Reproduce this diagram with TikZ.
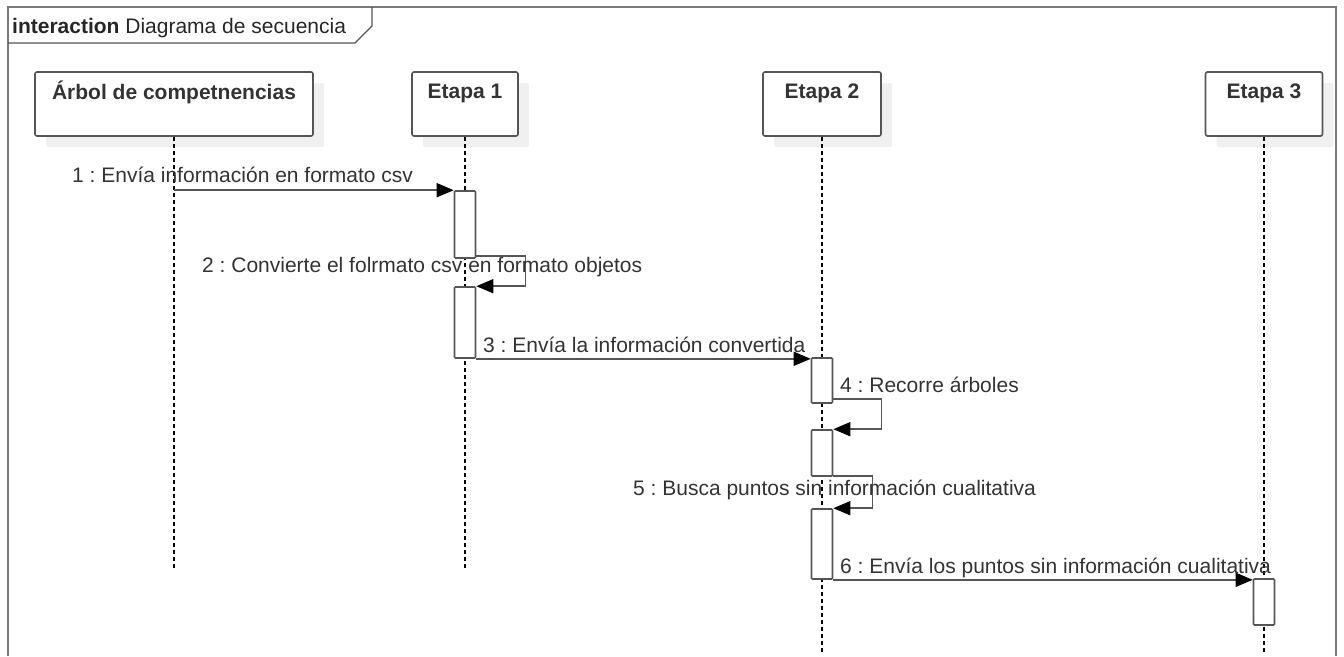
\documentclass[tikz,border=0pt]{standalone}
\usepackage{fontspec}
\setmainfont{Liberation Sans}
\usetikzlibrary{arrows.meta,shadows,calc}
\definecolor{linegray}{HTML}{555555}
\definecolor{textgray}{HTML}{333333}
\definecolor{framegray}{HTML}{7A7A7A}
\definecolor{shadowgray}{HTML}{F0F0F0}
\frenchspacing

\begin{document}
\begin{tikzpicture}[x=1pt,y=-1pt,
  every node/.style={font=\fontsize{21}{25}\selectfont, text=textgray},
  head/.style={draw=linegray, line width=1.6pt, rounded corners=2pt, fill=white,
    minimum height=64pt, inner sep=0pt,
    general shadow={fill=shadowgray, shadow xshift=11pt, shadow yshift=-11pt}},
  headlabel/.style={font=\fontsize{21}{25}\selectfont\bfseries, anchor=base, inner sep=0pt},
  act/.style={draw=linegray, line width=1.6pt, fill=white, minimum width=21pt,
    inner sep=0pt, rounded corners=1pt},
  life/.style={line width=1.3pt, dash pattern=on 4pt off 3pt, black},
  msg/.style={draw=linegray, line width=1.6pt,
    -{Triangle[length=17pt,width=14pt,color=black]}},
  msglabel/.style={anchor=base west, inner sep=0pt},
]
\useasboundingbox (0,0) rectangle (1344,656);

% interaction frame and its name tab
\draw[framegray, line width=2pt] (8,656) -- (8,7) -- (1336,7) -- (1336,656);
\draw[linegray, line width=1.3pt] (8,43) -- (355,43) -- (372,26) -- (372,7);
\node[anchor=base west, inner sep=0pt, text=black!85] (title) at (12,33)
  {\textbf{interaction} Diagrama de secuencia};

% lifeline heads
\node[head, minimum width=278pt] (h0) at (174,104) {};
\node[head, minimum width=106pt] (h1) at (465,104) {};
\node[head, minimum width=118pt] (h2) at (822,104) {};
\node[head, minimum width=117pt] (h3) at (1264,104) {};
\node[headlabel] (t0) at ([yshift=-28pt]h0.north) {Árbol de competnencias};
\node[headlabel] (t1) at ([yshift=-27pt]h1.north) {Etapa 1};
\node[headlabel] (t2) at ([yshift=-27pt]h2.north) {Etapa 2};
\node[headlabel] (t3) at ([yshift=-27pt]h3.north) {Etapa 3};

% lifeline ends
\coordinate (e0) at (174,568);
\coordinate (e1) at (465,568);
\coordinate (e2) at (822,652);
\coordinate (e3) at (1264,652);
\draw[life] (h0.south) -- (e0);
\draw[life] (h1.south) -- (e1);
\draw[life] (h2.south) -- (e2);
\draw[life] (h3.south) -- (e3);

% activation bars
\node[act, minimum height=67pt] (a1) at (465,224.5) {};
\node[act, minimum height=71pt] (a2) at (465,322.5) {};
\node[act, minimum height=45pt] (b1) at (822,380.5) {};
\node[act, minimum height=46pt] (b2) at (822,453) {};
\node[act, minimum height=70pt] (b3) at (822,544) {};
\node[act, minimum height=46pt] (c1) at (1264,602) {};

% messages
\draw[msg] (h0 |- a1.north) -- (a1.north west);
\draw[msg] ([yshift=3pt]a1.south east) -- ++(49,0) |- (a2.north east);
\draw[msg] (a2.south east) -- (a2.south east -| b1.west);
\draw[msg] ([yshift=5pt]b1.south east) -- ++(48,0) |- (b2.north east);
\draw[msg] ([yshift=1pt]b2.south east) -- ++(39,0) |- (b3.north east);
\draw[msg] (b3.south east) -- (b3.south east -| c1.west);

% message labels
\node[msglabel] (m1) at (72,182) {1 : Envía información en formato csv};
\node[msglabel] (m2) at (202,272) {2 : Convierte el folrmato csv en formato objetos};
\node[msglabel] (m3) at (483,352) {3 : Envía la información convertida};
\node[msglabel] (m4) at (840,392) {4 : Recorre árboles};
\node[msglabel] (m5) at (633,495) {5 : Busca puntos sin información cualitativa};
\node[msglabel] (m6) at (840,573) {6 : Envía los puntos sin información cualitativa};
\end{tikzpicture}
\end{document}
